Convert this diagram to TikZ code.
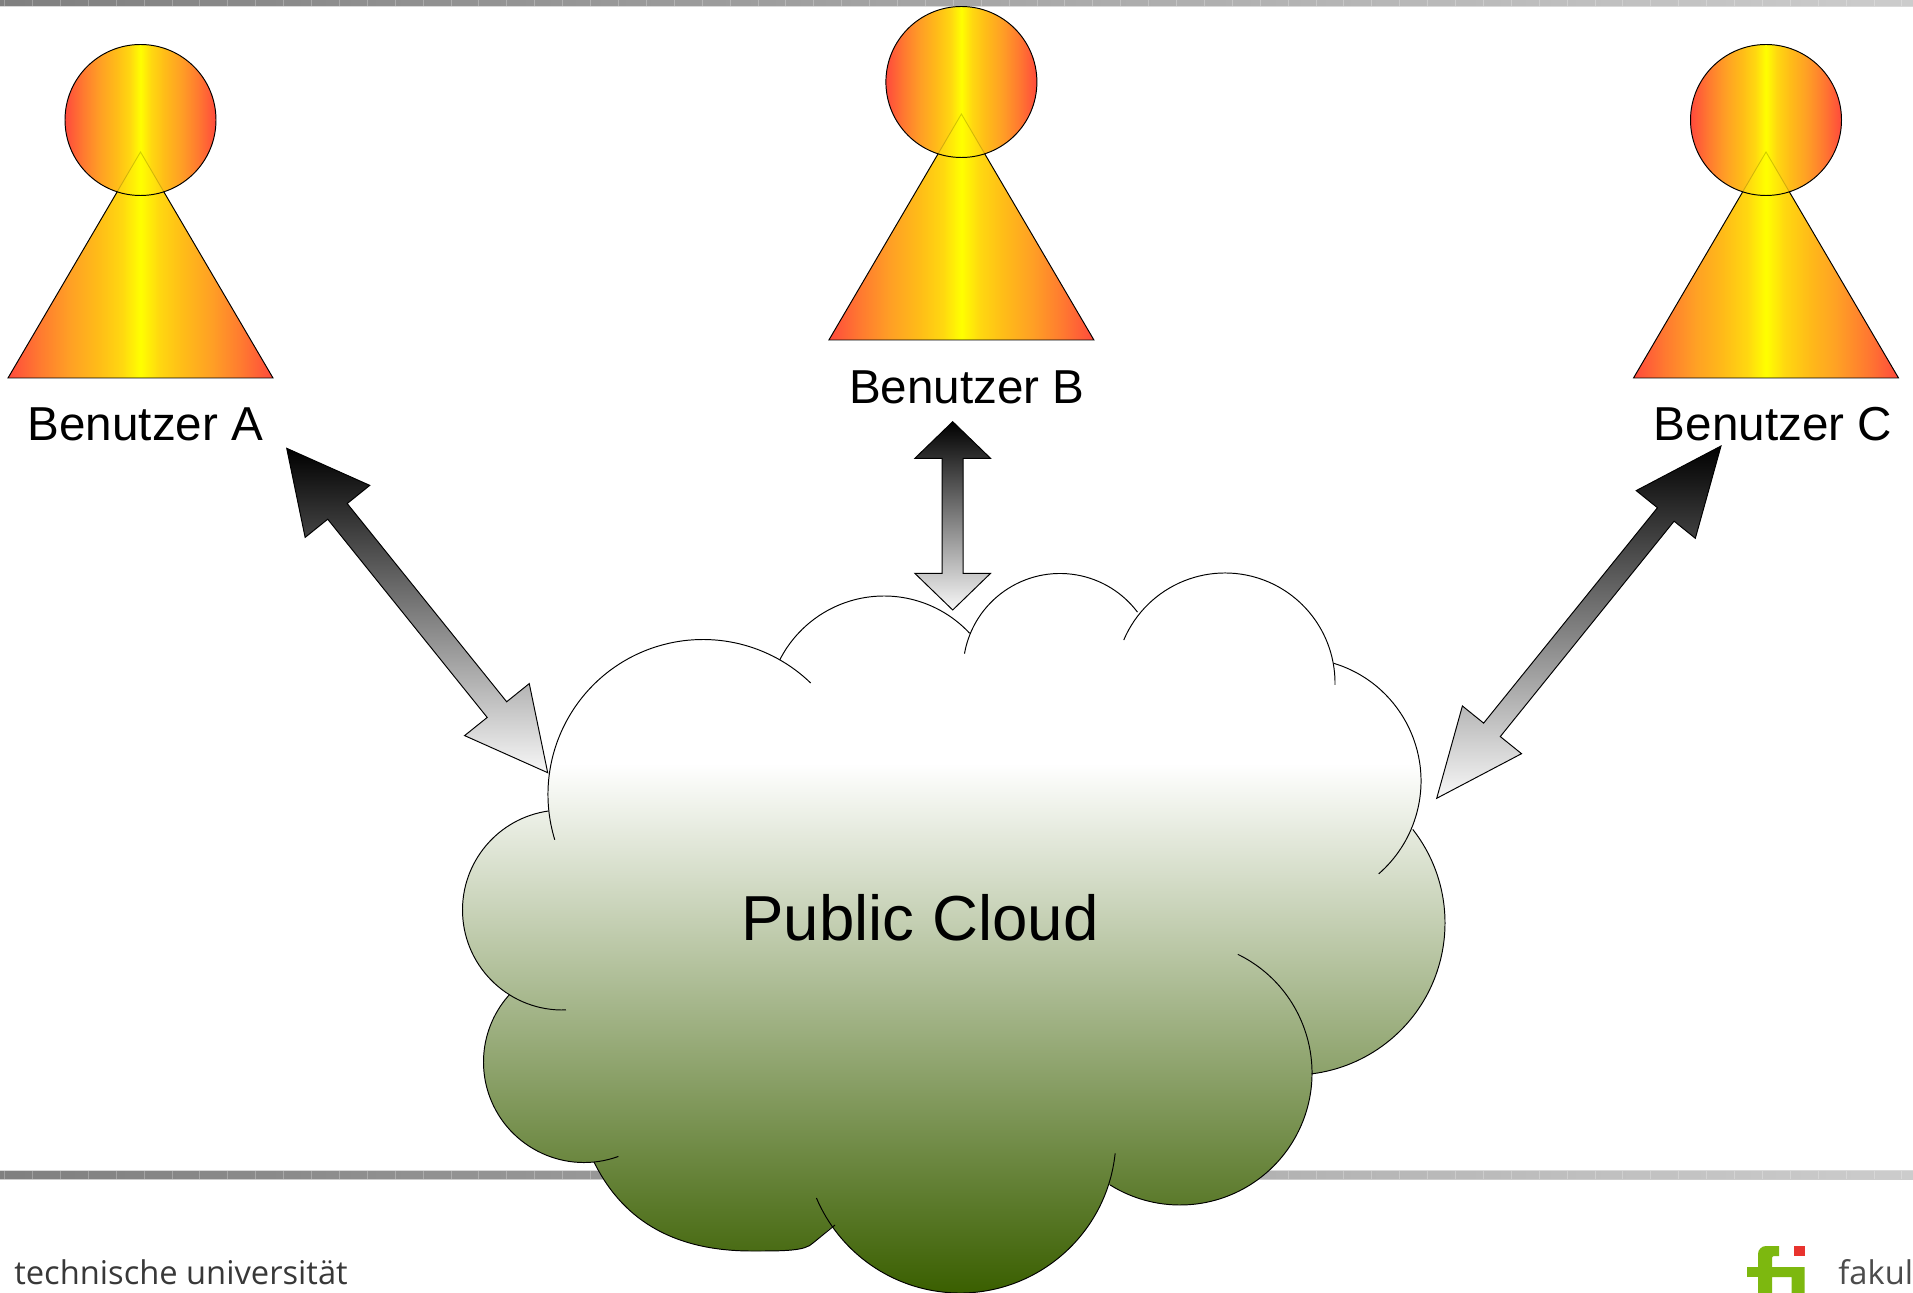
\documentclass[tikz,border=0pt]{standalone}
\usepackage{fontspec}
\setmainfont{Liberation Sans}
\newfontfamily\footfont{Open Sans}
\usetikzlibrary{calc}
\definecolor{cloudgreen}{HTML}{3A5F00}
\definecolor{pawnred}{HTML}{FF4A3C}
\definecolor{pawnA}{HTML}{FF7A30}
\definecolor{pawnB}{HTML}{FF9F25}
\definecolor{pawnC}{HTML}{FFBC18}
\definecolor{pawnD}{HTML}{FFD810}
\definecolor{logogreen}{HTML}{7DB80F}
\definecolor{logored}{HTML}{E8332E}
\pgfdeclareverticalshading{cloudshade}{100bp}{color(0bp)=(cloudgreen); color(25bp)=(cloudgreen); color(61.8bp)=(white); color(100bp)=(white)}
\pgfdeclarehorizontalshading{pawnshade}{100bp}{color(0bp)=(pawnred); color(25bp)=(pawnred); color(31bp)=(pawnA); color(36.5bp)=(pawnB); color(42bp)=(pawnC); color(46.5bp)=(pawnD); color(50bp)=(yellow); color(53.5bp)=(pawnD); color(58bp)=(pawnC); color(63.5bp)=(pawnB); color(69bp)=(pawnA); color(75bp)=(pawnred); color(100bp)=(pawnred)}
\tikzset{
  x=0.02cm,y=-0.02cm,
  outline/.style={draw=black,line width=0.55pt},
  pawnfill/.style={shading=pawnshade},
  barfill/.style={left color=black!50,right color=black!20},
  blockfill/.style={top color=black,bottom color=black!3,draw=black,line width=0.55pt,line join=miter},
  label/.style={font=\fontsize{27.1}{30}\selectfont,anchor=base,inner sep=0pt},
}
\newcommand\lobeseg[5]{($(#1,#2)+(#4:#3)$) arc[start angle=#4,end angle=#5,radius=#3]}
\def\px{0.56905pt}
% name, circle centre x, y, label text, label x, label baseline y
\newcommand\pawn[6]{
  \begin{scope}[shift={(#2,#3)}]
    \shade[pawnfill] (0,0) circle[radius=75.5];
    \shade[pawnfill] (0,32) -- (132.5,258) -- (-132.5,258) -- cycle;
    \draw[black,opacity=0.18,line width=0.5pt] (-23.3,71.8) -- (0,32) -- (23.3,71.8);
    \draw[outline] (23.3,71.8) -- (132.5,258) -- (-132.5,258) -- (-23.3,71.8);
    \draw[outline] (0,0) circle[radius=75.5];
  \end{scope}
  \node[label] (#1) at (#5,#6) {#4};
}
% free ends a, b; head length, head half width, shaft half width (px)
\newcommand\blockarrow[6]{
  \coordinate (ha) at ($(#2)!{#4*\px}!(#3)$);
  \coordinate (hb) at ($(#3)!{#4*\px}!(#2)$);
  \draw[blockfill]
    (#2)
    -- ($(ha)!{#5*\px}!90:(#2)$) -- ($(ha)!{#6*\px}!90:(#2)$)
    -- ($(hb)!{#6*\px}!-90:(#3)$) -- ($(hb)!{#5*\px}!-90:(#3)$)
    -- (#3)
    -- ($(hb)!{#5*\px}!90:(#3)$) -- ($(hb)!{#6*\px}!90:(#3)$)
    -- ($(ha)!{#6*\px}!-90:(#2)$) -- ($(ha)!{#5*\px}!-90:(#2)$)
    -- cycle;
}
\begin{document}
\begin{tikzpicture}
\useasboundingbox (0,0) rectangle (1913,1293);
\fill[white] (0,0) rectangle (1913,1293);

% header and footer bars
\shade[barfill] (0,0) rectangle (1913,6);
\fill[black!15] (0,6) rectangle (1913,7.2);
\shade[barfill] (0,1170.5) rectangle (1913,1179);
\fill[black!15] (0,1169.5) rectangle (1913,1170.8);
\fill[black!20] (0,1178.6) rectangle (1913,1179.8);
\foreach \k in {0,...,68}{
  \draw[white,opacity=0.25,line width=0.35pt] ({4.5+27.9*\k},0) -- ({4.5+27.9*\k},6);
  \draw[white,opacity=0.25,line width=0.35pt] ({4.5+27.9*\k},1170.5) -- ({4.5+27.9*\k},1179);
}

% cloud fill
\begin{scope}
  \clip \lobeseg{703}{794.5}{155}{173}{300}
    -- \lobeseg{884}{713}{117}{207}{317}
    -- \lobeseg{1060}{670.5}{97}{205}{323}
    -- \lobeseg{1225}{683}{110}{219}{350}
    -- \lobeseg{1298}{781}{123}{287}{383}
    -- \lobeseg{1293}{923}{152}{-38}{83}
    -- \lobeseg{1180}{1073}{132}{0}{122}
    -- \lobeseg{960}{1137}{156}{18}{145}
    -- (813,1243) .. controls (805,1251) and (785,1251) .. (752,1251)
       .. controls (680,1251) and (625,1225) .. (594,1162)
    -- \lobeseg{584}{1062}{100.5}{84}{222}
    -- \lobeseg{562.5}{910}{100}{122}{262} -- cycle;
  \shade[shading=cloudshade] (400,573) rectangle (1500,1293);
\end{scope}

% cloud outline
\draw[outline] \lobeseg{703}{794.5}{155}{163}{314};
\draw[outline] \lobeseg{884}{713}{117}{207}{317};
\draw[outline] \lobeseg{1060}{670.5}{97}{190}{323};
\draw[outline] \lobeseg{1225}{683}{110}{203}{361};
\draw[outline] \lobeseg{1298}{781}{123}{287}{409};
\draw[outline] \lobeseg{1293}{923}{152}{-38}{83};
\draw[outline] \lobeseg{1180}{1073}{132}{-64}{122};
\draw[outline] \lobeseg{960}{1137}{156}{6}{157};
\draw[outline] (835,1225) -- (813,1243) .. controls (805,1251) and (785,1251) .. (752,1251)
       .. controls (680,1251) and (625,1225) .. (594,1162);
\draw[outline] \lobeseg{584}{1062}{100.5}{70}{222};
\draw[outline] \lobeseg{562.5}{910}{100}{88}{262};
\node[anchor=base,inner sep=0pt,font=\fontsize{36.2}{40}\selectfont] (cloud) at (920,940) {Public Cloud};

% users
\pawn{userA}{140.5}{120}{Benutzer A}{145.5}{441}
\pawn{userB}{961.4}{82}{Benutzer B}{967}{404}
\pawn{userC}{1766}{120}{Benutzer C}{1773}{441}

% block arrows
\coordinate (aTop) at (286.7,448.3);
\coordinate (aEnd) at (547.7,772.7);
\coordinate (bTop) at (952.7,421.7);
\coordinate (bEnd) at (952.7,610);
\coordinate (cTop) at (1721,446);
\coordinate (cEnd) at (1436.7,798.3);
\blockarrow{A}{aTop}{aEnd}{81}{41.5}{12.5}
\blockarrow{B}{bTop}{bEnd}{36.6}{37.8}{10.5}
\blockarrow{C}{cTop}{cEnd}{88}{38}{10.7}

% footer
\node[anchor=base west,inner sep=0pt,text=black!78,font=\footfont\fontsize{18.6}{21}\selectfont] (tu) at (14,1284.5) {technische universität};
\node[anchor=base west,inner sep=0pt,text=black!70,font=\footfont\fontsize{18.6}{21}\selectfont] (fak) at (1838,1284.5) {fakul};
\fill[logogreen] (1758,1293) -- (1758,1254) arc[start angle=180,end angle=270,radius=8] -- (1779,1246) -- (1779,1256)
  -- (1774,1256) arc[start angle=270,end angle=180,radius=2] -- (1772,1267) -- (1804.5,1267) -- (1804.5,1293)
  -- (1791.5,1293) -- (1791.5,1277) -- (1772,1277) -- (1772,1293) -- cycle;
\fill[logogreen] (1746.5,1267) rectangle (1758,1277);
\fill[logored] (1794,1246) rectangle (1804.5,1256);
\end{tikzpicture}
\end{document}
